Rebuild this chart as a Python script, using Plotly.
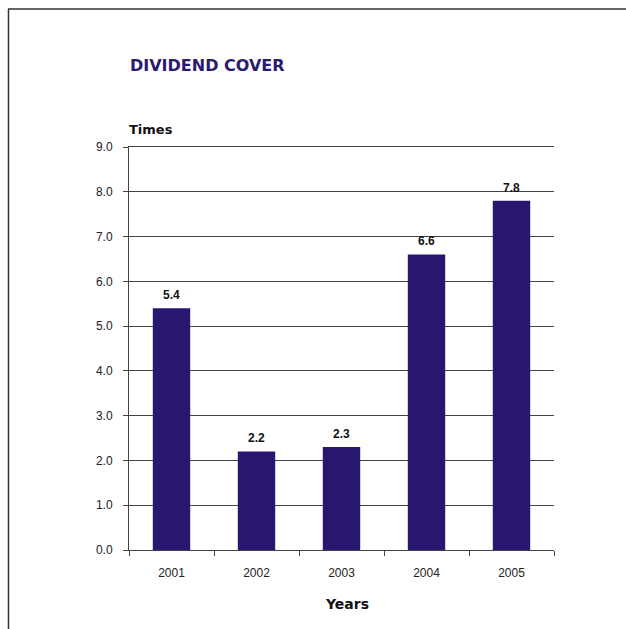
import plotly.graph_objects as go

# Dividend cover by financial year
years = ["2001", "2002", "2003", "2004", "2005"]
cover = [5.4, 2.2, 2.3, 6.6, 7.8]
y_ticks = [0, 1, 2, 3, 4, 5, 6, 7, 8, 9]
y_tick_text = [f"{v:.1f}" for v in y_ticks]

BAR_COLOR = "#29166F"
TITLE_COLOR = "#2B1A6E"
GRID_COLOR = "#444444"
TEXT_COLOR = "#222222"
SANS = "Liberation Sans, Arial"
HEAD = "DejaVu Sans, Verdana"

W, H = 626, 629
L, R, T, B = 129, 72, 147, 79
pw, ph = W - L - R, H - T - B


def px_x(px):
    return (px - L) / pw


def px_y(py):
    return (H - B - py) / ph


fig = go.Figure(
    go.Bar(
        x=years,
        y=cover,
        marker=dict(color=BAR_COLOR, line=dict(width=0)),
        width=0.44,
        hoverinfo="skip",
    )
)

# value labels above each bar (category index on the x axis)
for i, v in enumerate(cover):
    fig.add_annotation(
        x=i, y=v, text=f"<b>{v:.1f}</b>", showarrow=False,
        yanchor="middle", yshift=13,
        font=dict(family=SANS, size=12, color="#111111"),
    )

fig.add_annotation(
    x=px_x(128), y=px_y(65), xref="paper", yref="paper",
    xanchor="left", yanchor="middle", showarrow=False,
    text="<b>DIVIDEND COVER</b>",
    font=dict(family=HEAD, size=16, color=TITLE_COLOR),
)
fig.add_annotation(
    x=px_x(127), y=px_y(130), xref="paper", yref="paper",
    xanchor="left", yanchor="middle", showarrow=False,
    text="<b>Times</b>",
    font=dict(family=HEAD, size=13, color="#111111"),
)
fig.add_annotation(
    x=px_x(347), y=px_y(604), xref="paper", yref="paper",
    xanchor="center", yanchor="middle", showarrow=False,
    text="<b>Years</b>",
    font=dict(family=HEAD, size=14, color="#111111"),
)

# page frame: left and top rules
frame = dict(color="#333333", width=1.5)
fig.add_shape(type="line", xref="paper", yref="paper",
              x0=px_x(8.5), x1=px_x(8.5), y0=px_y(9), y1=px_y(640), line=frame)
fig.add_shape(type="line", xref="paper", yref="paper",
              x0=px_x(8), x1=px_x(640), y0=px_y(9), y1=px_y(9), line=frame)

fig.update_layout(
    width=W, height=H,
    margin=dict(l=L, r=R, t=T, b=B),
    paper_bgcolor="white", plot_bgcolor="white",
    showlegend=False,
    font=dict(family=SANS, size=12, color=TEXT_COLOR),
    xaxis=dict(
        type="category",
        categoryorder="array", categoryarray=years,
        range=[-0.5, len(years) - 0.5],
        showgrid=False,
        showline=True, linecolor=GRID_COLOR, linewidth=1, mirror=True,
        ticks="outside", tickson="boundaries", ticklen=5,
        tickcolor=GRID_COLOR, tickwidth=1,
        ticklabelstandoff=12, tickangle=0,
        tickfont=dict(family=SANS, size=12, color=TEXT_COLOR),
    ),
    yaxis=dict(
        range=[0, 9],
        tickvals=y_ticks, ticktext=y_tick_text,
        showgrid=True, gridcolor=GRID_COLOR, gridwidth=1,
        showline=True, linecolor=GRID_COLOR, linewidth=1,
        ticks="outside", ticklen=5, tickcolor=GRID_COLOR, tickwidth=1,
        ticklabelstandoff=8,
        zeroline=False,
        tickfont=dict(family=SANS, size=12, color=TEXT_COLOR),
    ),
)

fig.write_html("out.html")
